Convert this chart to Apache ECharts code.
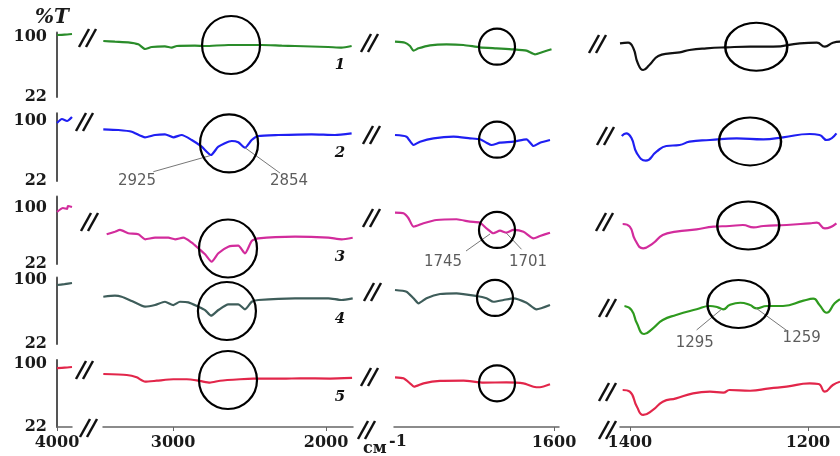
<!DOCTYPE html>
<html lang="en">
<head>
<meta charset="UTF-8">
<title>IR spectra</title>
<script src="https://cdn.jsdelivr.net/npm/echarts@6/dist/echarts.min.js"></script>
<style>
  html, body { margin: 0; padding: 0; background: #fff; }
  #chart { width: 840px; height: 456px; }
</style>
</head>
<body>
<div id="chart"></div>
<script>
// broken wavenumber axis: four pieces (cm-1)
const segRanges = [[3900, 4000], [1824, 3458], [1590, 1920], [1164, 1411]];
const segTicks = [[4000], [3000, 2000], [1600], [1400, 1200]];
const yTicks = [22, 100];
const rowMax = [106, 110, 116, 103, 105];
const rowNames = ['1', '2', '3', '4', '5'];

// spectra, [wavenumber, %T]
const s1A = [[4000, 102.6], [3950, 103], [3900, 103.9]];
const s1B = [[3456, 94.8], [3380, 93.9], [3293, 93.1], [3227, 90.5], [3183, 84.4], [3140, 87], [3053, 87.9], [3009, 86.1], [2976, 88.3], [2857, 88.7], [2791, 88.3], [2639, 89.6], [2421, 89.6], [2290, 88.7], [2203, 88.3], [1987, 87], [1898, 86.1], [1833, 88.3]];
const s1C = [[1918, 93.9], [1898, 92.6], [1888, 88.3], [1881, 82.2], [1871, 85.3], [1848, 89.2], [1815, 90.5], [1781, 89.6], [1748, 86.6], [1715, 85.3], [1681, 84], [1655, 82.2], [1638, 77.5], [1621, 80.9], [1605, 84]];
const s1D = [[1411, 91.8], [1402, 92.6], [1396, 85.3], [1391, 65.8], [1385, 57.1], [1378, 63.6], [1368, 75.3], [1355, 78.8], [1344, 80.1], [1333, 83.1], [1314, 85.3], [1291, 86.6], [1265, 87.4], [1239, 87.4], [1209, 91.8], [1190, 92.6], [1181, 87.4], [1172, 92.6], [1164, 93.9]];

const s2A = [[4000, 97.4], [3967, 102.6], [3933, 100], [3900, 105.2]];
const s2B = [[3456, 89.2], [3358, 88.3], [3270, 86.1], [3183, 78.8], [3118, 81.8], [3053, 82.7], [2998, 78.8], [2944, 81.8], [2878, 75.3], [2813, 66.6], [2752, 55.8], [2704, 66.6], [2617, 74], [2574, 72.3], [2530, 65.3], [2486, 75.3], [2443, 80.5], [2312, 81.8], [2094, 82.7], [1942, 81.8], [1833, 84]];
const s2C = [[1918, 81.8], [1895, 79.6], [1881, 68.8], [1868, 73.1], [1841, 77.5], [1801, 79.6], [1768, 77.5], [1748, 76.2], [1735, 71.8], [1725, 68.8], [1708, 71.8], [1681, 73.1], [1655, 76.2], [1641, 67.5], [1628, 71.8], [1608, 75.3]];
const s2D = [[1409, 80.5], [1404, 84], [1398, 77.5], [1392, 58], [1382, 48.4], [1370, 60.1], [1359, 67.5], [1344, 68.8], [1333, 73.1], [1310, 75.3], [1280, 77.5], [1250, 76.2], [1228, 78.8], [1198, 83.1], [1187, 81.8], [1179, 75.3], [1168, 84]];

const s3A = [[4000, 94.4], [3960, 100], [3933, 98.6], [3927, 102.8], [3900, 101.4]];
const s3B = [[3434, 63.4], [3380, 67], [3347, 69.4], [3293, 64.8], [3227, 63.4], [3183, 56.4], [3118, 58.6], [3031, 58.6], [2987, 56.4], [2933, 58.6], [2878, 51.7], [2835, 43.9], [2791, 35.5], [2748, 25.2], [2704, 36.9], [2639, 46.1], [2574, 47.5], [2530, 36.9], [2486, 54], [2443, 57.8], [2203, 60], [1985, 58.6], [1898, 56.4], [1826, 58.6]];
const s3C = [[1918, 93.5], [1901, 92.6], [1891, 85.7], [1881, 74], [1861, 78.7], [1835, 83.3], [1795, 84.3], [1768, 80.9], [1748, 79.5], [1735, 71.7], [1721, 64.8], [1708, 68.4], [1695, 65.6], [1681, 69.4], [1661, 67], [1641, 57.8], [1628, 61], [1608, 65.6]];
const s3D = [[1408, 77.7], [1400, 74], [1394, 55.4], [1385, 43.9], [1374, 50.8], [1363, 62.4], [1348, 67], [1325, 70.3], [1306, 74], [1288, 74.9], [1273, 76.3], [1261, 73.1], [1250, 74.9], [1224, 76.3], [1198, 78.7], [1190, 79.5], [1181, 71.7], [1168, 78.7]];

const s4A = [[4000, 93.9], [3950, 95], [3900, 96.3]];
const s4B = [[3456, 79.6], [3380, 80.9], [3336, 79.6], [3270, 74.4], [3183, 67.5], [3118, 69.5], [3053, 73.5], [2998, 69.5], [2955, 73.5], [2900, 72.8], [2835, 67.5], [2791, 63.4], [2752, 56.5], [2704, 63.4], [2639, 70.4], [2574, 70.4], [2530, 64.3], [2486, 73.5], [2443, 75.6], [2203, 77.7], [1985, 77.7], [1898, 75.6], [1826, 77.7]];
const s4C = [[1918, 87.8], [1895, 85.7], [1881, 77.7], [1871, 71.6], [1855, 77.7], [1828, 82.9], [1795, 83.8], [1755, 80.5], [1735, 77.7], [1721, 73.5], [1701, 75.6], [1681, 77.7], [1655, 72.3], [1635, 64.3], [1608, 69.5]];
const s4D = [[1406, 68.3], [1398, 63.4], [1392, 47.2], [1384, 34.2], [1374, 41.1], [1363, 51.2], [1348, 57.3], [1325, 64.3], [1310, 68.3], [1301, 66.7], [1295, 64.3], [1288, 69.5], [1276, 72.3], [1265, 69.5], [1258, 65.5], [1246, 68.3], [1228, 68.3], [1205, 74.8], [1194, 77.2], [1187, 69.5], [1179, 60.1], [1170, 71.6], [1164, 76.5]];

const s5A = [[4000, 95], [3950, 95.5], [3900, 96.3]];
const s5B = [[3456, 87.6], [3303, 86.4], [3238, 83.5], [3183, 78.1], [3107, 79.3], [2998, 81.1], [2911, 81.1], [2824, 79], [2759, 76.9], [2693, 79.3], [2562, 81.1], [2476, 81.8], [2280, 81.8], [2170, 82.3], [1974, 82], [1830, 82.7]];
const s5C = [[1918, 83.5], [1901, 82.3], [1888, 76.1], [1880, 71.9], [1861, 76.1], [1828, 79], [1781, 79.3], [1741, 76.9], [1695, 77.3], [1661, 76.1], [1641, 71.9], [1628, 71.2], [1608, 74.9]];
const s5D = [[1408, 67.8], [1400, 65.7], [1392, 47.1], [1385, 36.9], [1374, 43.1], [1363, 53.3], [1348, 57.5], [1329, 63.7], [1310, 65.7], [1295, 64.5], [1288, 67.8], [1265, 66.9], [1243, 69.9], [1224, 71.9], [1198, 76.1], [1188, 75.2], [1181, 65.7], [1172, 74], [1164, 78.1]];

// circled regions, one per row (segment B, C, D)
const circlesB = [[2621, 89.6], [2634, 70.8], [2641, 43.6], [2648, 62.2], [2641, 80.2]];
const circlesC = [[1714, 87.4], [1714, 75.7], [1714, 69.4], [1718, 78.1], [1714, 76.1]];
const circlesD = [[1258, 87.3], [1265, 73.4], [1267, 75.6], [1278, 70.7]];

// peak annotations
const peakLabels = ['2925', '2854', '1745', '1701', '1295', '1259'];
const peakRow = [1, 1, 2, 2, 3, 3];
const peakSeg = [1, 1, 2, 2, 3, 3];
const peakLeaders = [
  [[2759, 54.9], [3129, 34.1]], [[2530, 65.3], [2301, 32.3]],
  [[1728, 63.8], [1776, 40.1]], [[1695, 64.8], [1665, 42.5]],
  [[1297, 64.3], [1325, 39.1]], [[1258, 65.5], [1222, 37]]
];
const peakTextAt = [[3236, 22], [2242, 22], [1822, 24.8], [1652, 24.8], [1327, 23.2], [1207, 29.7]];

const spectra = [
  [s1A, s1B, s1C, s1D],
  [s2A, s2B, s2C, s2D],
  [s3A, s3B, s3C, s3D],
  [s4A, s4B, s4C, s4D],
  [s5A, s5B, s5C, s5D]
];

// layout (pixels)
const rowY100 = [37, 121, 208, 280, 364];
const rowY22 = [97, 181, 264, 344, 427];
const segLeft = [57, 103, 394, 620];
const segWidth = [15, 250, 165, 220];
const rowColors = ['#2a8c2a', '#1f1ff2', '#d22c9c', '#3e5d5a', '#e2264a'];
const segDColors = ['#111111', '#1f1ff2', '#d22c9c', '#2e9a1e', '#e2264a'];
const ellipse = 'path://M0,50A50,50,0,1,1,100,50A50,50,0,1,1,0,50Z';
const serif = '"DejaVu Serif", "Liberation Serif", serif';

const chart = echarts.init(document.getElementById('chart'));
const grid = [], xAxis = [], yAxis = [], series = [];
const gi = (r, s) => r * 4 + s;
const plain = v => String(v);

for (let r = 0; r < 5; r++) {
  const k = (rowY22[r] - rowY100[r]) / 78;
  const top = rowY100[r] - (rowMax[r] - 100) * k;
  for (let s = 0; s < 4; s++) {
    const idx = gi(r, s);
    grid.push({ left: segLeft[s], width: segWidth[s], top: top, height: rowY22[r] - top,
      containLabel: false, outerBoundsMode: 'none' });
    xAxis.push({
      gridIndex: idx, type: 'value', inverse: true,
      min: segRanges[s][0], max: segRanges[s][1],
      show: r === 4,
      axisLine: { onZero: false, lineStyle: { color: '#666', width: 1.5 } },
      axisTick: { customValues: segTicks[s], length: 4, lineStyle: { color: '#666' } },
      axisLabel: { customValues: segTicks[s], formatter: plain, fontFamily: serif, fontWeight: 'bold',
        fontSize: 16, color: '#1a1a1a', margin: 8 },
      splitLine: { show: false }
    });
    yAxis.push({
      gridIndex: idx, type: 'value', min: 22, max: rowMax[r],
      show: s === 0,
      axisLine: { show: true, onZero: false, lineStyle: { color: '#555', width: 2 } },
      axisTick: { show: false },
      axisLabel: { customValues: yTicks, formatter: plain, fontFamily: serif, fontWeight: 'bold',
        fontSize: 16, color: '#1a1a1a', margin: 10 },
      splitLine: { show: false }
    });
    const color = s === 3 ? segDColors[r] : rowColors[r];
    series.push({
      type: 'line', xAxisIndex: idx, yAxisIndex: idx, data: spectra[r][s],
      showSymbol: false, smooth: s === 3 ? 0.5 : 0.2, silent: true,
      lineStyle: { width: 2.2, color: color }, itemStyle: { color: color }
    });
  }
}

function addCircle(r, s, point, size, symbol) {
  series.push({
    type: 'scatter', xAxisIndex: gi(r, s), yAxisIndex: gi(r, s), data: [point],
    symbol: symbol, symbolSize: size, clip: false, silent: true, z: 5,
    itemStyle: { color: 'rgba(0,0,0,0)', borderColor: '#000', borderWidth: 2.2, opacity: 1 }
  });
}
circlesB.forEach((p, r) => addCircle(r, 1, p, 58, 'circle'));
circlesC.forEach((p, r) => addCircle(r, 2, p, 36, 'circle'));
circlesD.forEach((p, r) => addCircle(r, 3, p, [62, 48], ellipse));

peakLabels.forEach((txt, i) => {
  const idx = gi(peakRow[i], peakSeg[i]);
  series.push({
    type: 'line', xAxisIndex: idx, yAxisIndex: idx, data: peakLeaders[i],
    showSymbol: false, clip: false, silent: true, z: 4,
    lineStyle: { width: 1, color: '#777' }
  });
  series.push({
    type: 'scatter', xAxisIndex: idx, yAxisIndex: idx,
    data: [{ name: txt, value: peakTextAt[i] }],
    symbolSize: 1, clip: false, silent: true,
    itemStyle: { color: 'rgba(0,0,0,0)' },
    label: { show: true, position: 'inside', formatter: '{b}',
      fontFamily: '"DejaVu Sans", sans-serif', fontSize: 15, color: '#333' }
  });
});

// axis break marks "//"
const breaks = [[88, 38], [370, 43], [598, 44], [85, 122], [372, 135], [606, 136],
  [90, 222], [372, 218], [605, 222], [373, 292], [608, 308],
  [85, 370], [370, 377], [608, 392], [89, 428], [367, 430], [608, 430]];
const graphic = [];
breaks.forEach(([cx, cy]) => {
  [0, 1].forEach(i => {
    const x0 = cx - 9 + 7 * i;
    graphic.push({ type: 'line', silent: true, z: 10,
      shape: { x1: x0, y1: cy + 9, x2: x0 + 10, y2: cy - 9 },
      style: { stroke: '#111', lineWidth: 2.5 } });
  });
});
const rowLabelY = [65, 153, 257, 319, 397];
rowLabelY.forEach((y, r) => {
  graphic.push({ type: 'text', x: 340, y: y, silent: true,
    style: { text: rowNames[r], font: 'italic bold 15px ' + serif, fill: '#111',
      align: 'center', verticalAlign: 'middle' } });
});
graphic.push({ type: 'text', x: 35, y: 18, silent: true,
  style: { text: '%T', font: 'italic bold 20px ' + serif, fill: '#1a1a1a', verticalAlign: 'middle' } });
graphic.push({ type: 'text', x: 363, y: 449, silent: true,
  style: { text: 'см', font: 'bold 16px ' + serif, fill: '#1a1a1a', verticalAlign: 'middle' } });
graphic.push({ type: 'text', x: 389, y: 442, silent: true,
  style: { text: '-1', font: 'bold 16px ' + serif, fill: '#1a1a1a', verticalAlign: 'middle' } });

chart.setOption({
  animation: false,
  backgroundColor: '#fff',
  grid: grid,
  xAxis: xAxis,
  yAxis: yAxis,
  series: series,
  graphic: graphic
});
window.addEventListener('resize', function () { chart.resize(); });
</script>
</body>
</html>
